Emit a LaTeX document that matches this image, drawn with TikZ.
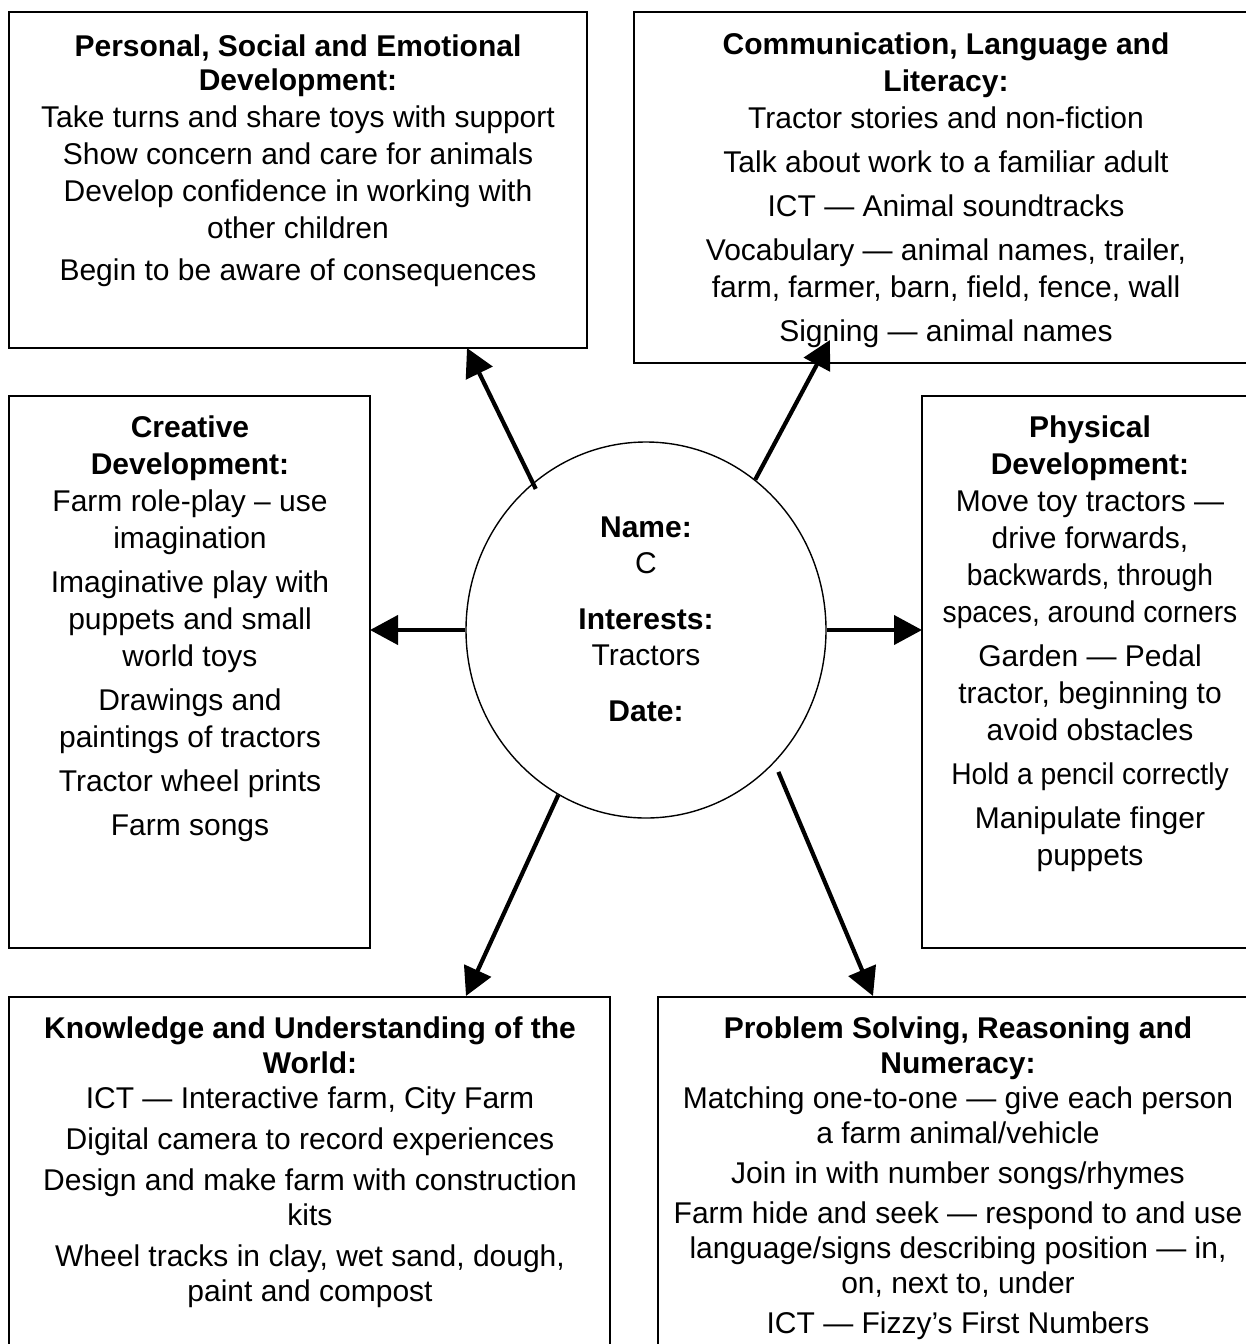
\documentclass[tikz,border=0pt]{standalone}
\usepackage{fontspec}
\setmainfont{Liberation Sans}
\usepackage{graphicx}
\usetikzlibrary{arrows.meta,shapes.geometric,calc}
\tikzset{
  box/.style={draw, line width=1.6pt, rectangle, inner sep=0pt, outer sep=0pt, anchor=north west},
  txt/.style={align=center, inner sep=0pt, outer sep=0pt, anchor=base, font=\fontsize{30}{37}\selectfont},
  txtlow/.style={txt, font=\fontsize{30}{35}\selectfont},
  txtc/.style={txt, font=\fontsize{30}{36}\selectfont},
  arr/.style={line width=4.2pt, -{Triangle[length=28pt,width=29pt]}},
}
\newcommand{\cnd}[1]{\scalebox{0.94}[1]{#1}}
\begin{document}
\begin{tikzpicture}[x=1pt,y=-1pt]
\useasboundingbox (0,0) rectangle (1245,1344);
\fill[white] (0,0) rectangle (1245,1344);

% boxes
\node[box, minimum width=578pt, minimum height=336pt] (pse) at (9,12) {};
\node[box, minimum width=624pt, minimum height=351pt] (cll) at (634,12) {};
\node[box, minimum width=361pt, minimum height=552pt] (cd) at (9,396) {};
\node[box, minimum width=336pt, minimum height=552pt] (pd) at (922,396) {};
\node[box, minimum width=601pt, minimum height=380pt] (kuw) at (9,997) {};
\node[box, minimum width=600pt, minimum height=380pt] (psrn) at (658,997) {};

% centre
\node[draw, ellipse, line width=1.4pt, minimum width=360pt, minimum height=376pt, inner sep=0pt] (c) at (646,630) {};
% (anchor = baseline of the last line)
\node[txtc] (cT) at (646,721) {\textbf{Name:}\\C\\[20pt]\textbf{Interests:}\\Tractors\\[20pt]\textbf{Date:}};

% texts
\node[txt] (pseT) at (298,280) {\textbf{Personal, Social and Emotional}\\[-3pt]\textbf{Development:}\\
Take turns and share toys with support\\Show concern and care for animals\\
Develop confidence in working with\\other children\\[5pt]Begin to be aware of consequences};

\node[txt] (cllT) at (946,341) {\textbf{Communication, Language and}\\\textbf{Literacy:}\\
Tractor stories and non-fiction\\[7pt]Talk about work to a familiar adult\\[7pt]
ICT — Animal soundtracks\\[7pt]Vocabulary — animal names, trailer,\\
farm, farmer, barn, field, fence, wall\\[7pt]Signing — animal names};

\node[txt] (cdT) at (190,835) {\textbf{Creative}\\\textbf{Development:}\\
Farm role-play – use\\imagination\\[7pt]Imaginative play with\\puppets and small\\world toys\\[7pt]
Drawings and\\paintings of tractors\\[7pt]Tractor wheel prints\\[7pt]Farm songs};

\node[txt] (pdT) at (1090,865) {\textbf{Physical}\\\textbf{Development:}\\
Move toy tractors —\\drive forwards,\\\cnd{backwards, through}\\\cnd{spaces, around corners}\\[7pt]
Garden — Pedal\\tractor, beginning to\\avoid obstacles\\[7pt]\cnd{Hold a pencil correctly}\\[7pt]
Manipulate finger\\puppets};

\node[txtlow] (kuwT) at (310,1301) {\textbf{Knowledge and Understanding of the}\\\textbf{World:}\\
ICT — Interactive farm, City Farm\\[6pt]Digital camera to record experiences\\[6pt]
Design and make farm with construction\\kits\\[6pt]Wheel tracks in clay, wet sand, dough,\\paint and compost};

\node[txtlow] (psrnT) at (958,1333) {\textbf{Problem Solving, Reasoning and}\\\textbf{Numeracy:}\\
Matching one-to-one — give each person\\a farm animal/vehicle\\[5pt]
Join in with number songs/rhymes\\[5pt]Farm hide and seek — respond to and use\\
language/signs describing position — in,\\on, next to, under\\[5pt]ICT — Fizzy’s First Numbers};

% arrow ends
\coordinate (tPSE) at (467,348);
\coordinate (tCLL) at (830,340);
\coordinate (tKUW) at (466,996);
\coordinate (tPSRN) at (873,996);

\draw[arr] ($(c.center)!0.965!(c.128)$) -- (tPSE);
\draw[arr] (c.54) -- (tCLL);
\draw[arr] (c.west) -- (c.west -| cd.east);
\draw[arr] (c.east) -- (c.east -| pd.west);
\draw[arr] (c.242) -- (tKUW);
\draw[arr] ($(c.center)!1.05!(c.313)$) -- (tPSRN);
\end{tikzpicture}
\end{document}
